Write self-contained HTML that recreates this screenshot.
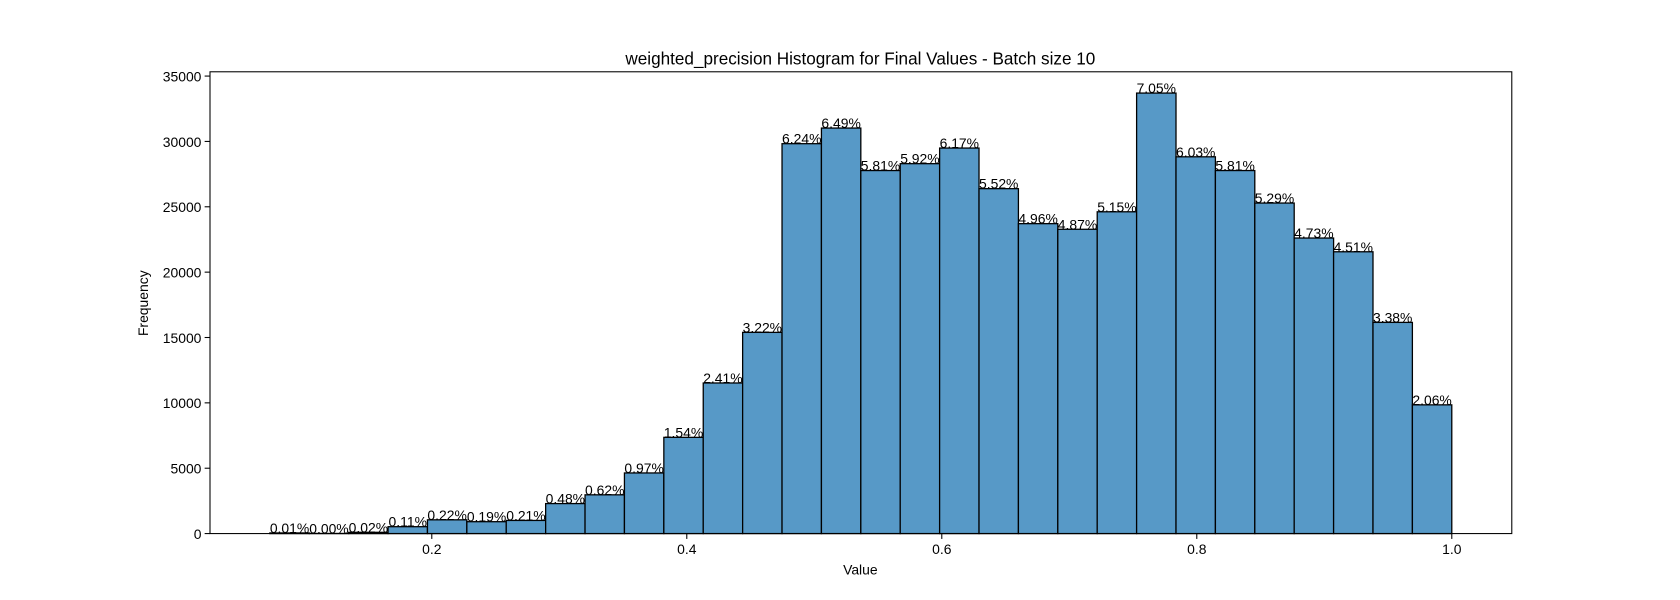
<!DOCTYPE html>
<html><head><meta charset="utf-8"><style>
body{margin:0;background:#fff;}
svg{display:block;font-family:"Liberation Sans","DejaVu Sans",sans-serif;}
</style></head><body>
<svg id="chart" width="1680" height="600" xmlns="http://www.w3.org/2000/svg">
<rect width="1680" height="600" fill="#fff"/>
<g transform="scale(1.07143)">
<text x="803" y="60" font-size="16" text-anchor="middle">weighted_precision Histogram for Final Values - Batch size 10</text>
<text x="803" y="536" font-size="13" text-anchor="middle">Value</text>
<text transform="translate(138,283) rotate(-90)" font-size="13" text-anchor="middle">Frequency</text>
<g id="bars"></g><g id="labels"></g><g id="axes"></g>
</g>
</svg>
<script>
const pctLabels=["0.01%","0.00%","0.02%","0.11%","0.22%","0.19%","0.21%","0.48%","0.62%","0.97%","1.54%","2.41%","3.22%","6.24%","6.49%","5.81%","5.92%","6.17%","5.52%","4.96%","4.87%","5.15%","7.05%","6.03%","5.81%","5.29%","4.73%","4.51%","3.38%","2.06%"];
const counts=[48,10,96,526,1052,908,1004,2294,2964,4637,7361,11520,15392,29827,31022,27772,28298,29493,26386,23709,23279,24617,33699,28823,27772,25286,22609,21558,16156,9847];
const binStart=0.0730;
const binEnd=1.0;
const xTicks=[0.2,0.4,0.6,0.8,1.0];
const yTicks=[0,5000,10000,15000,20000,25000,30000,35000];
const PL=196,PR=1411,PT=67,PB=498;
const xs=v=>165+v*1190;
const ys=v=>PB-v*(61/5000);
const NS="http://www.w3.org/2000/svg";
function mk(tag,attrs,parent){const e=document.createElementNS(NS,tag);for(const k in attrs)e.setAttribute(k,attrs[k]);parent.appendChild(e);return e;}
const bars=document.getElementById('bars'),labels=document.getElementById('labels'),axes=document.getElementById('axes');
const w=(binEnd-binStart)/counts.length;
counts.forEach((c,i)=>{
  const x0=xs(binStart+i*w),x1=xs(binStart+(i+1)*w),y=ys(c);
  const r=mk('rect',{x:x0,y:y,width:x1-x0,height:PB-y,fill:'#5799c7',stroke:'#000','stroke-width':1.2},bars);
  
  
  const t=mk('text',{x:(x0+x1)/2,y:y,'font-size':13,'text-anchor':'middle'},labels);
  t.textContent=pctLabels[i];
  
  
});
const frame=mk('rect',{x:PL,y:PT,width:PR-PL,height:PB-PT,fill:'none',stroke:'#000','stroke-width':1},axes);


xTicks.forEach(v=>{
  const x=xs(v);
  mk('line',{x1:x,x2:x,y1:PB,y2:PB+5,stroke:'#000'},axes);
  const t=mk('text',{x:x,y:PB+19,'font-size':13,'text-anchor':'middle'},axes);
  t.textContent=v.toFixed(1);
  
  
});
yTicks.forEach(v=>{
  const y=ys(v);
  mk('line',{x1:PL-5,x2:PL,y1:y,y2:y,stroke:'#000'},axes);
  const t=mk('text',{x:PL-8,y:y+5,'font-size':13,'text-anchor':'end'},axes);
  t.textContent=v;
  
  
});
</script>
</body></html>
